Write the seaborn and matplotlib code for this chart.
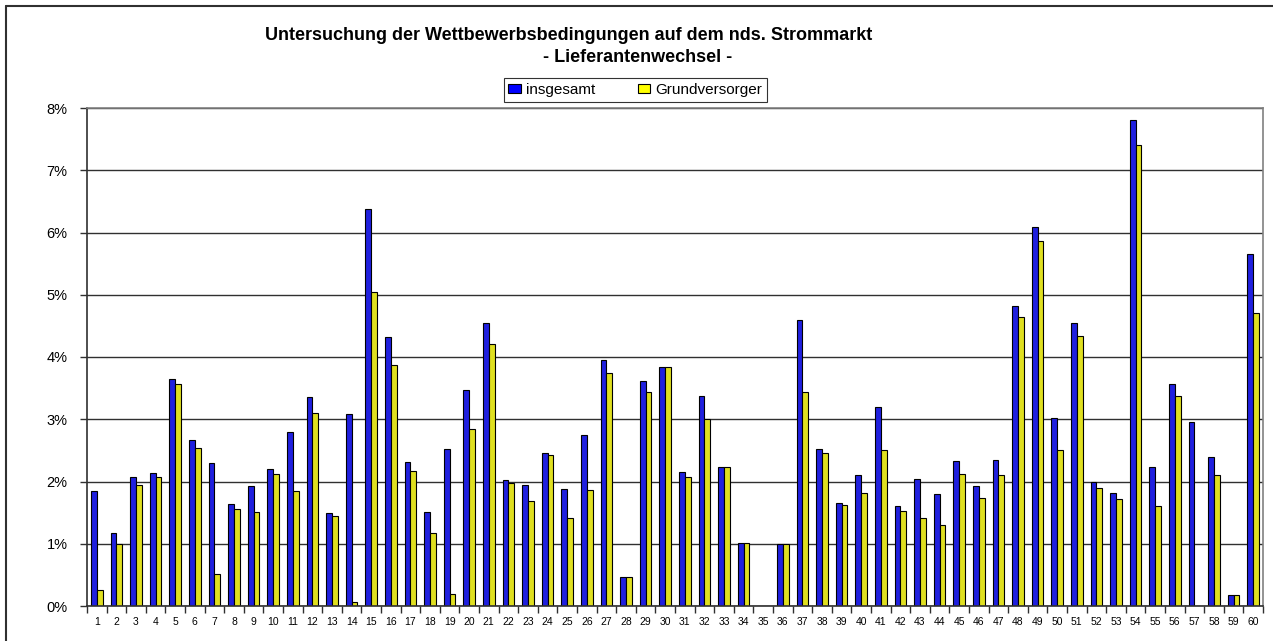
import numpy as np
import pandas as pd
import matplotlib
matplotlib.use("Agg")
import matplotlib.pyplot as plt
from matplotlib.lines import Line2D
from matplotlib.ticker import PercentFormatter, FixedLocator
import seaborn as sns

# === data (percent) === #
labels = [str(i) for i in range(1, 61)]
insgesamt = [1.84, 1.18, 2.07, 2.14, 3.65, 2.66, 2.29, 1.64, 1.93, 2.20,
             2.80, 3.36, 1.49, 3.08, 6.37, 4.32, 2.32, 1.51, 2.53, 3.47,
             4.54, 2.03, 1.95, 2.46, 1.88, 2.74, 3.95, 0.47, 3.61, 3.84,
             2.16, 3.37, 2.24, 1.02, 0.00, 1.00, 4.60, 2.53, 1.65, 2.11,
             3.20, 1.60, 2.04, 1.80, 2.33, 1.93, 2.34, 4.82, 6.09, 3.02,
             4.54, 2.00, 1.81, 7.81, 2.24, 3.56, 2.95, 2.40, 0.18, 5.65]
grundversorger = [0.25, 1.00, 1.94, 2.07, 3.57, 2.54, 0.52, 1.56, 1.51, 2.12,
                  1.84, 3.10, 1.45, 0.07, 5.04, 3.87, 2.17, 1.18, 0.19, 2.85,
                  4.21, 1.98, 1.68, 2.42, 1.41, 1.86, 3.74, 0.47, 3.43, 3.84,
                  2.07, 3.00, 2.24, 1.01, 0.00, 1.00, 3.44, 2.45, 1.63, 1.81,
                  2.50, 1.53, 1.42, 1.30, 2.12, 1.73, 2.11, 4.65, 5.87, 2.51,
                  4.34, 1.90, 1.72, 7.41, 1.61, 3.37, 0.00, 2.11, 0.18, 4.71]
series = ["insgesamt", "Grundversorger"]
colors = ["#0000FF", "#FFFF00"]

df = pd.DataFrame({
    "nr": labels * 2,
    "wert": insgesamt + grundversorger,
    "reihe": [series[0]] * 60 + [series[1]] * 60,
})

sns.set_style("white")
plt.rcParams["font.family"] = ["Liberation Sans", "DejaVu Sans"]
plt.rcParams["text.color"] = "black"
plt.rcParams["xtick.color"] = "black"
plt.rcParams["ytick.color"] = "black"

fig = plt.figure(figsize=(12.73, 6.41), dpi=100)
ax = fig.add_axes([87 / 1273, 1 - 606 / 641, 1176 / 1273, 498 / 641])

sns.barplot(data=df, x="nr", y="wert", hue="reihe", palette=colors,
            width=0.6, edgecolor="black", linewidth=0.8, ax=ax, legend=False)

ax.set_xlim(-0.5, 59.5)
ax.set_ylim(0, 8)
ax.set_xlabel("")
ax.set_ylabel("")

# grid
ax.set_yticks(range(0, 9))
ax.yaxis.set_major_formatter(PercentFormatter(decimals=0))
ax.yaxis.grid(True, color="#303030", linewidth=1)
ax.set_axisbelow(True)
ax.tick_params(axis="y", labelsize=10.5, length=5, width=1, color="#303030",
               labelcolor="black", left=True, pad=9)

# x ticks between categories
ax.tick_params(axis="x", which="major", length=0, labelsize=7.5, pad=8,
               labelcolor="black")
ax.xaxis.set_minor_locator(FixedLocator(np.arange(-0.5, 60, 1)))
ax.tick_params(axis="x", which="minor", length=5, width=1, color="#303030",
               bottom=True)

for side in ["left", "bottom"]:
    ax.spines[side].set_color("#303030")
    ax.spines[side].set_linewidth(1.2)
for side in ["top", "right"]:
    ax.spines[side].set_color("#808080")
    ax.spines[side].set_linewidth(1.2)

# title
fig.text(569 / 1273, 1 - 36 / 641,
         "Untersuchung der Wettbewerbsbedingungen auf dem nds. Strommarkt",
         ha="center", va="center", fontsize=13, fontweight="bold")
fig.text(732 / 1273, 1 - 57 / 641, "- Lieferantenwechsel -",
         ha="right", va="center", fontsize=13, fontweight="bold")

# legend
handles = [plt.Rectangle((0, 0), 1, 1, facecolor=c, edgecolor="black", linewidth=0.8)
           for c in colors]
leg = fig.legend(handles, series, loc="center", ncol=2,
                 bbox_to_anchor=(635.5 / 1273, 1 - 90 / 641),
                 fontsize=11, frameon=True, fancybox=False, shadow=False,
                 handlelength=0.8, handleheight=0.6, handletextpad=0.35,
                 columnspacing=2.8, borderpad=0.3, borderaxespad=0)
leg.get_frame().set_edgecolor("black")
leg.get_frame().set_linewidth(0.8)

# outer chart frame
fig.add_artist(Line2D([6 / 1273, 6 / 1273], [0, 1 - 6 / 641],
                      transform=fig.transFigure, color="#303030", linewidth=1.5))
fig.add_artist(Line2D([6 / 1273, 1], [1 - 6 / 641, 1 - 6 / 641],
                      transform=fig.transFigure, color="#303030", linewidth=1.5))

fig.savefig("out.png", dpi=100)
